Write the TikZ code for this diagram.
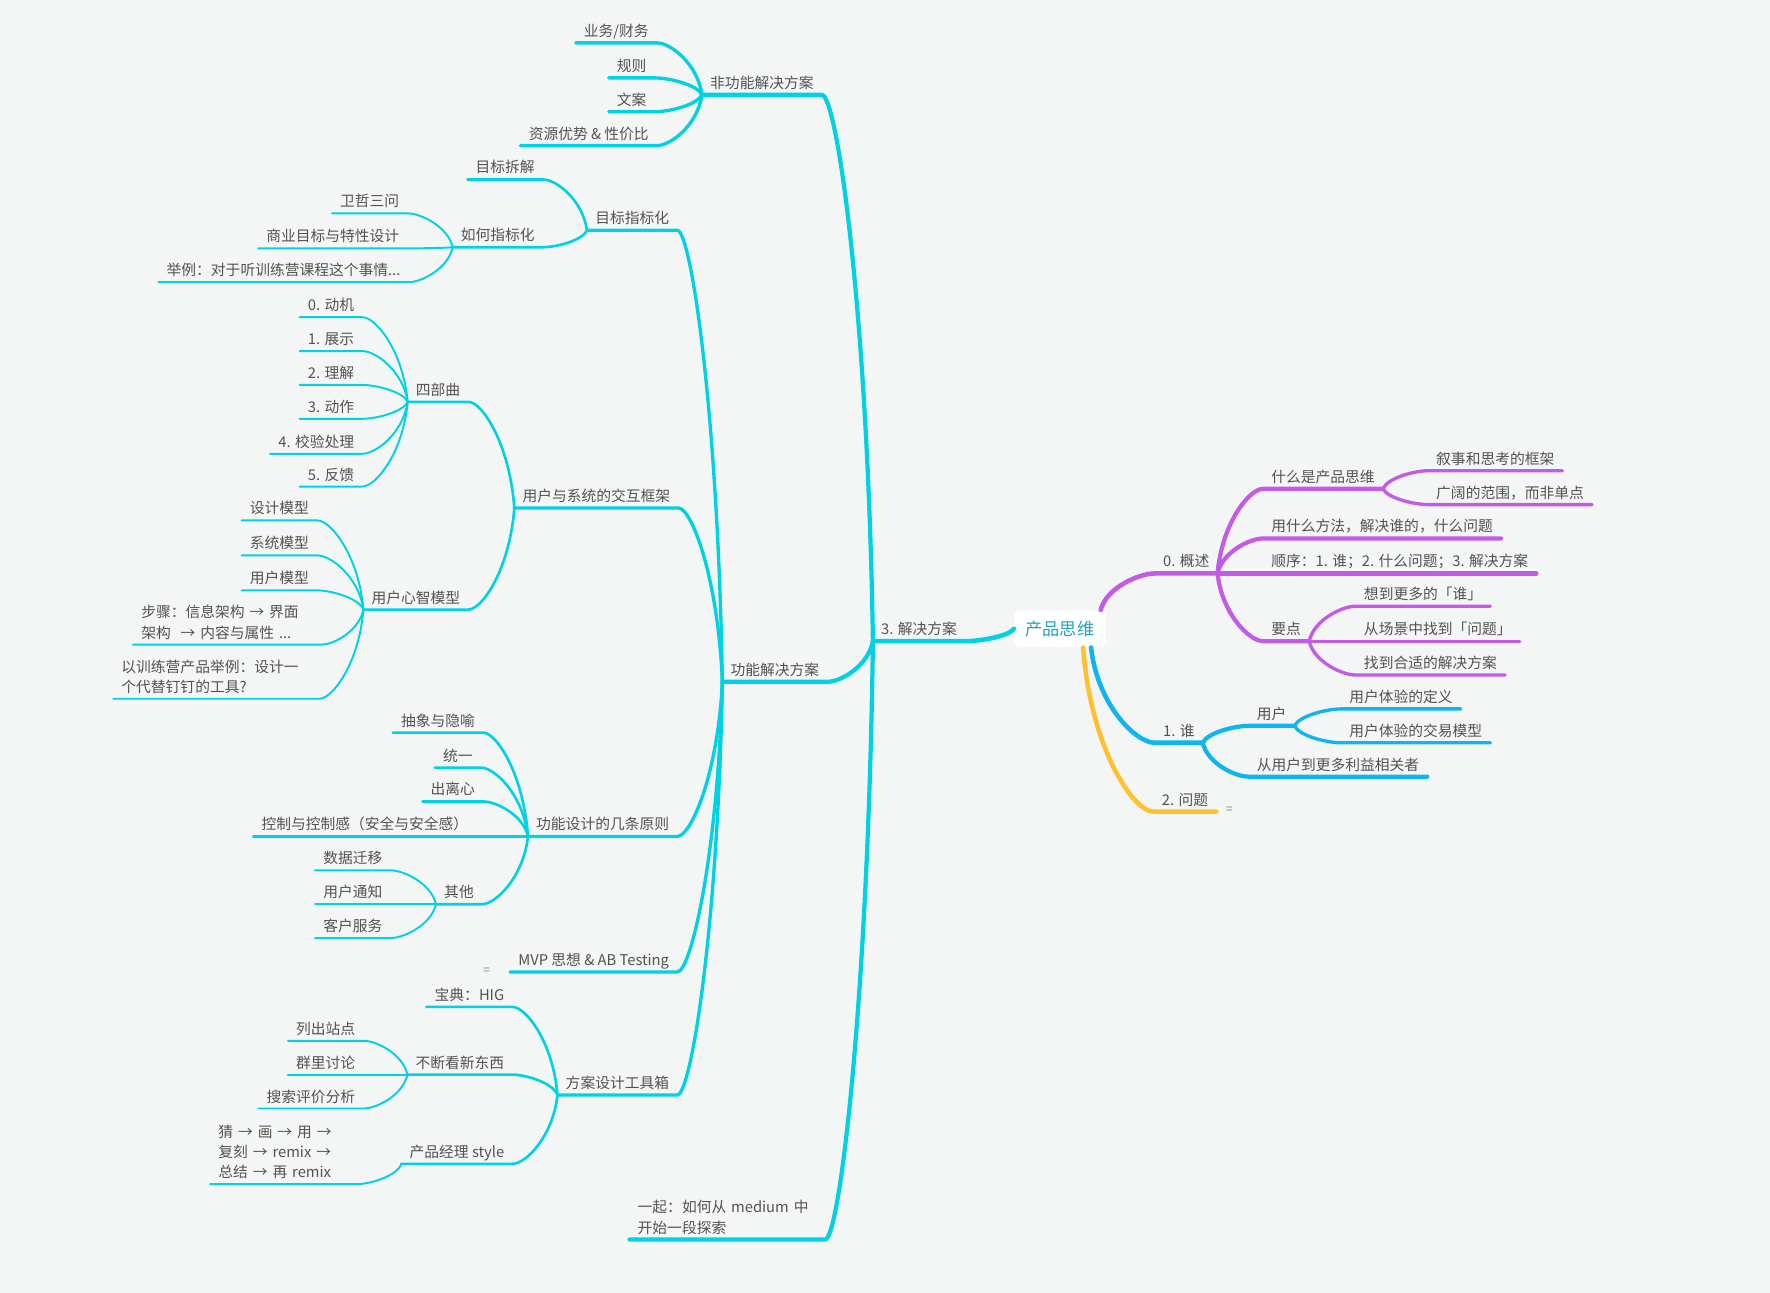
\documentclass[tikz,border=0pt]{standalone}
\usepackage{fontspec}
\newfontfamily\cjkfont{Noto Sans CJK SC}
\usetikzlibrary{calc}
\definecolor{bgcol}{RGB}{244,246,245}
\definecolor{cyanln}{RGB}{0,210,228}
\definecolor{purpln}{RGB}{194,92,232}
\definecolor{bluln}{RGB}{16,180,238}
\definecolor{yelln}{RGB}{255,193,48}
\definecolor{txtgray}{RGB}{82,82,82}
\definecolor{roottxt}{RGB}{36,162,188}

\tikzset{
  topic/.style={font=\cjkfont\fontsize{8.4pt}{11.6pt}\selectfont, text=txtgray,
    inner xsep=4.5pt, inner ysep=2.7pt, text depth=0.8pt},
  ltopic/.style={topic, anchor=south east},
  rtopic/.style={topic, anchor=south west},
  multi/.style={align=left, text depth=},
  rootbox/.style={fill=white, rounded corners=3pt, text=roottxt,
    font=\cjkfont\fontsize{9.8pt}{12pt}\selectfont,
    minimum width=52pt, minimum height=21pt, inner sep=0pt},
  notemark/.style={font=\cjkfont\fontsize{7pt}{7pt}\selectfont, text=gray!90, inner sep=0pt},
  link/.style={draw=cyanln, line cap=round, line join=round},
  lvA/.style={line width=2.6pt},
  lvB/.style={line width=2.4pt},
  lvC/.style={line width=1.9pt},
  lvD/.style={line width=1.5pt},
  lvE/.style={line width=1.1pt}
}

% branch to a topic on the left: ends on its underline
\newcommand{\leftbranch}[3][]{%
  \draw[link,#1] let \p1=(#2), \p2=(#3.south east) in
    (\p1) .. controls ({\x1+0.1*(\x2-\x1)},{\y1+0.6*(\y2-\y1)})
      and ({\x2-0.3*(\x2-\x1)},\y2) .. (\p2) -- (#3.south west);}
% branch to a topic on the right
\newcommand{\rightbranch}[3][]{%
  \draw[link,#1] let \p1=(#2), \p2=(#3.south west) in
    (\p1) .. controls ({\x1+0.1*(\x2-\x1)},{\y1+0.6*(\y2-\y1)})
      and ({\x2-0.3*(\x2-\x1)},\y2) .. (\p2) -- (#3.south east);}

\begin{document}
\begin{tikzpicture}[x=0.02258cm, y=-0.02258cm]
\fill[bgcol] (0,0) rectangle (1568,1145);
\useasboundingbox (0,0) rectangle (1568,1145);

\node[rootbox] (root) at (939,557) {产品思维};

% left side
\node[ltopic] (sol) at (855,568) {3. 解决方案};
\node[ltopic] (nonfunc) at (728,84) {非功能解决方案};
\node[ltopic] (func) at (733,604) {功能解决方案};
\node[ltopic, multi, text width=102pt] (medium) at (731,1098) {一起：如何从~medium~中\\开始一段探索};

\node[ltopic] (biz) at (582,38) {业务/财务};
\node[ltopic] (rule) at (580,69) {规则};
\node[ltopic] (copy) at (580,99) {文案};
\node[ltopic] (res) at (582,129) {资源优势 \& 性价比};

\node[ltopic] (goal) at (600,204) {目标指标化};
\node[ltopic] (frame) at (601,450) {用户与系统的交互框架};
\node[ltopic] (rules) at (600,741) {功能设计的几条原则};
\node[ltopic] (mvp) at (600,861) {MVP 思想 \& AB Testing};
\node[ltopic] (tool) at (600,970) {方案设计工具箱};
\node[notemark] (mvpnote) at (431,860) {=};

\node[ltopic] (split) at (481,159) {目标拆解};
\node[ltopic] (how) at (481,219) {如何指标化};
\node[ltopic] (wz) at (361,189) {卫哲三问};
\node[ltopic] (bizgoal) at (361,220) {商业目标与特性设计};
\node[ltopic] (eg) at (362,250) {举例：对于听训练营课程这个事情...};

\node[ltopic] (four) at (415,356) {四部曲};
\node[ltopic] (mind) at (415,540) {用户心智模型};
\node[ltopic] (s0) at (321,281) {0. 动机};
\node[ltopic] (s1) at (321,311) {1. 展示};
\node[ltopic] (s2) at (321,341) {2. 理解};
\node[ltopic] (s3) at (321,371) {3. 动作};
\node[ltopic] (s4) at (321,402) {4. 校验处理};
\node[ltopic] (s5) at (321,431) {5. 反馈};
\node[ltopic] (m1) at (281,461) {设计模型};
\node[ltopic] (m2) at (281,492) {系统模型};
\node[ltopic] (m3) at (281,523) {用户模型};
\node[ltopic, multi, text width=98pt] (m4) at (285,571) {步骤：信息架构~→~界面\\架构~~→~内容与属性~...};
\node[ltopic, multi, text width=108pt] (m5) at (283,619) {以训练营产品举例：设计一\\个代替钉钉的工具?};

\node[ltopic] (r1) at (428,649) {抽象与隐喻};
\node[ltopic] (r2) at (426,680) {统一};
\node[ltopic] (r3) at (428,710) {出离心};
\node[ltopic] (r4) at (422,741) {控制与控制感（安全与安全感）};
\node[ltopic] (other) at (427,801) {其他};
\node[ltopic] (o1) at (346,771) {数据迁移};
\node[ltopic] (o2) at (346,801) {用户通知};
\node[ltopic] (o3) at (346,831) {客户服务};

\node[ltopic] (hig) at (454,892) {宝典：HIG};
\node[ltopic] (new) at (454,952) {不断看新东西};
\node[ltopic] (pm) at (454,1031) {产品经理 style};
\node[ltopic] (n1) at (322,922) {列出站点};
\node[ltopic] (n2) at (322,952) {群里讨论};
\node[ltopic] (n3) at (322,982) {搜索评价分析};
\node[ltopic, multi, text width=74pt] (pm1) at (316,1049) {猜~→~画~→~用~→\\复刻~→~remix~→\\总结~→~再~remix};

% right side
\node[rtopic] (ov) at (1023,508) {0. 概述};
\node[rtopic] (who) at (1023,658) {1. 谁};
\node[rtopic] (prob) at (1022,719) {2. 问题};
\node[notemark] (probnote) at (1089,718) {=};

\node[rtopic] (what) at (1119,433) {什么是产品思维};
\node[rtopic] (method) at (1119,477) {用什么方法，解决谁的，什么问题};
\node[rtopic] (order) at (1119,508) {顺序：1. 谁；2. 什么问题；3. 解决方案};
\node[rtopic] (key) at (1119,568) {要点};
\node[rtopic] (w1) at (1265,417) {叙事和思考的框架};
\node[rtopic] (w2) at (1265,447) {广阔的范围，而非单点};
\node[rtopic] (k1) at (1201,537) {想到更多的「谁」};
\node[rtopic] (k2) at (1201,568) {从场景中找到「问题」};
\node[rtopic] (k3) at (1201,598) {找到合适的解决方案};

\node[rtopic] (user) at (1106,643) {用户};
\node[rtopic] (more) at (1106,688) {从用户到更多利益相关者};
\node[rtopic] (u1) at (1188,628) {用户体验的定义};
\node[rtopic] (u2) at (1188,658) {用户体验的交易模型};

% branches
\leftbranch[lvA]{root.west}{sol}
\foreach \c in {nonfunc,func,medium} {\leftbranch[lvB]{sol.south west}{\c}}
\foreach \c in {biz,rule,copy,res} {\leftbranch[lvC]{nonfunc.south west}{\c}}
\foreach \c in {goal,frame,rules,mvp,tool} {\leftbranch[lvC]{func.south west}{\c}}
\foreach \c in {split,how} {\leftbranch[lvD]{goal.south west}{\c}}
\foreach \c in {wz,bizgoal,eg} {\leftbranch[lvE]{how.south west}{\c}}
\foreach \c in {four,mind} {\leftbranch[lvD]{frame.south west}{\c}}
\foreach \c in {s0,s1,s2,s3,s4,s5} {\leftbranch[lvE]{four.south west}{\c}}
\foreach \c in {m1,m2,m3,m4,m5} {\leftbranch[lvE]{mind.south west}{\c}}
\foreach \c in {r1,r2,r3,r4,other} {\leftbranch[lvD]{rules.south west}{\c}}
\foreach \c in {o1,o2,o3} {\leftbranch[lvE]{other.south west}{\c}}
\foreach \c in {hig,new,pm} {\leftbranch[lvD]{tool.south west}{\c}}
\foreach \c in {n1,n2,n3} {\leftbranch[lvE]{new.south west}{\c}}
\leftbranch[lvE]{pm.south west}{pm1}

\rightbranch[lvA,draw=purpln]{[xshift=-3pt]root.north east}{ov}
\rightbranch[lvA,draw=bluln]{[xshift=-8.5pt]root.south east}{who}
\rightbranch[lvA,draw=yelln]{[xshift=-13pt]root.south east}{prob}
\foreach \c in {what,method,order,key} {\rightbranch[lvB,draw=purpln]{ov.south east}{\c}}
\foreach \c in {w1,w2} {\rightbranch[lvC,draw=purpln]{what.south east}{\c}}
\foreach \c in {k1,k2,k3} {\rightbranch[lvC,draw=purpln]{key.south east}{\c}}
\foreach \c in {user,more} {\rightbranch[lvB,draw=bluln]{who.south east}{\c}}
\foreach \c in {u1,u2} {\rightbranch[lvC,draw=bluln]{user.south east}{\c}}
\end{tikzpicture}
\end{document}
